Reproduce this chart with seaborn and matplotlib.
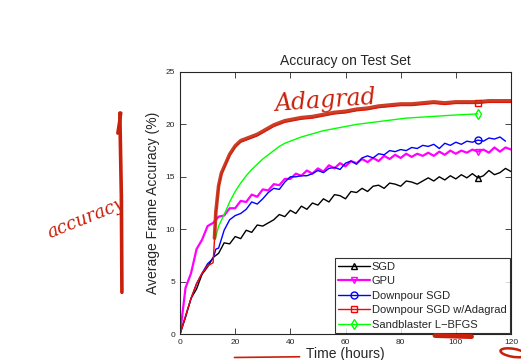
import matplotlib.pyplot as plt
import seaborn as sns
from matplotlib.lines import Line2D
from matplotlib.patches import Ellipse

# time (hours) and average frame accuracy (%) per method
sgd_t = list(range(0, 121, 2))
sgd_acc = [0.0, 1.6, 3.4, 4.3, 5.7, 6.4, 7.3, 7.7, 8.7, 8.6, 9.3, 9.1, 9.9, 9.7,
           10.4, 10.3, 10.6, 10.9, 11.4, 11.2, 11.8, 11.5, 12.2, 11.9, 12.5,
           12.3, 12.9, 12.6, 13.3, 13.2, 12.9, 13.6, 13.5, 13.9, 13.6, 14.1,
           14.2, 13.9, 14.4, 14.3, 14.1, 14.6, 14.5, 14.3, 14.6, 14.9, 14.6,
           15.0, 14.7, 15.1, 14.8, 15.2, 14.9, 15.3, 14.9, 15.1, 15.6, 15.2,
           15.4, 15.8, 15.5]

gpu_t = list(range(0, 121, 2))
gpu_acc = [0.0, 4.4, 5.8, 8.1, 9.0, 10.3, 10.6, 11.2, 11.3, 12.0, 12.0, 12.7,
           12.6, 13.3, 13.1, 13.8, 13.7, 14.3, 14.2, 14.8, 14.8, 15.3, 15.1,
           15.6, 15.3, 15.8, 15.5, 16.1, 15.8, 16.3, 16.0, 16.5, 16.3, 16.7,
           16.4, 16.8, 16.5, 17.0, 16.7, 17.1, 16.8, 17.2, 16.9, 17.2, 17.0,
           17.3, 17.0, 17.4, 17.1, 17.5, 17.2, 17.5, 17.3, 17.6, 17.4, 17.6,
           17.3, 17.8, 17.4, 17.8, 17.6]

downpour_t = [0, 2, 4, 6, 8, 10, 12, 13, 14, 16, 18, 20, 22, 24, 26, 28, 30,
              32, 34, 36, 38, 40, 42, 44, 46, 48, 50, 52, 54, 56, 58, 60, 62,
              64, 66, 68, 70, 72, 74, 76, 78, 80, 82, 84, 86, 88, 90, 92, 94,
              96, 98, 100, 102, 104, 106, 108, 110, 112, 114, 116, 118]
downpour_acc = [0.0, 1.7, 3.4, 4.8, 5.8, 6.7, 7.2, 8.1, 8.2, 9.9, 10.9, 11.3,
                11.5, 11.9, 12.6, 12.4, 12.9, 13.5, 13.9, 13.8, 14.5, 15.0,
                15.0, 15.1, 15.1, 15.3, 15.6, 15.4, 15.8, 15.9, 15.7, 16.3,
                16.5, 16.2, 16.8, 17.0, 16.8, 17.2, 17.1, 17.5, 17.4, 17.6,
                17.5, 17.8, 17.7, 18.0, 17.9, 18.1, 17.7, 18.2, 18.0, 18.3,
                18.1, 18.4, 18.3, 18.5, 18.4, 18.7, 18.6, 18.8, 18.4]

adagrad_t = [0, 2, 4, 6, 8, 10, 12, 12.5, 13, 14, 15, 16, 18, 20, 22, 24, 26,
             28, 30, 32, 34, 36, 38, 40, 44, 48, 52, 56, 60, 64, 68, 72, 76,
             80, 84, 88, 92, 96, 100, 104, 108, 112, 116, 120]
adagrad_acc = [0.0, 1.7, 3.4, 4.8, 5.8, 6.5, 6.8, 9.0, 11.5, 14.0, 15.2,
               15.8, 17.0, 17.8, 18.3, 18.5, 18.7, 18.9, 19.2, 19.5, 19.8,
               20.0, 20.2, 20.3, 20.5, 20.6, 20.8, 21.0, 21.1, 21.3, 21.4,
               21.6, 21.7, 21.8, 21.8, 21.9, 22.0, 21.9, 22.0, 22.0, 22.0,
               22.1, 22.1, 22.1]

lbfgs_t = [12.7, 14, 16, 18, 20, 22, 24, 26, 28, 30, 32, 34, 36, 38, 40, 44,
           48, 52, 56, 60, 64, 70, 76, 82, 88, 94, 100, 108]
lbfgs_acc = [9.0, 10.3, 11.4, 12.6, 13.6, 14.4, 15.1, 15.7, 16.2, 16.7, 17.1,
             17.5, 17.9, 18.2, 18.4, 18.8, 19.1, 19.4, 19.6, 19.8, 20.0, 20.2,
             20.4, 20.6, 20.7, 20.8, 20.9, 21.0]

series = [
    ("SGD", sgd_t, sgd_acc, "black", "^", 1.0),
    ("GPU", gpu_t, gpu_acc, "magenta", "v", 1.6),
    ("Downpour SGD", downpour_t, downpour_acc, "blue", "o", 1.0),
    ("Downpour SGD w/Adagrad", adagrad_t, adagrad_acc, "red", "s", 1.0),
    ("Sandblaster L\u2212BFGS", lbfgs_t, lbfgs_acc, "#00ff00", "d", 1.0),
]
MARK_AT = 108


def main(output="out.png"):
    sns.set_style("ticks")
    plt.rcParams["font.family"] = ["Liberation Sans", "DejaVu Sans"]

    fig = plt.figure(figsize=(5.21, 3.6), dpi=100)
    ax = fig.add_axes([0.3455, 0.0722, 0.6353, 0.7278])

    for name, t, acc, color, marker, lw in series:
        sns.lineplot(x=t, y=acc, ax=ax, color=color, lw=lw, marker=marker,
                     markersize=5, markerfacecolor="none", markeredgecolor=color,
                     markeredgewidth=1.0, markevery=[t.index(MARK_AT)],
                     label=name, sort=False, estimator=None)

    # hand-drawn highlight over the Adagrad curve
    sns.lineplot(x=adagrad_t[7:], y=[v + 0.15 for v in adagrad_acc[7:]], ax=ax,
                 color="#c62a10", lw=2.6, alpha=0.9, sort=False, estimator=None)

    ax.set_xlim(0, 120)
    ax.set_ylim(0, 25)
    ax.set_xticks(range(0, 121, 20))
    ax.set_yticks(range(0, 26, 5))
    ax.tick_params(direction="in", labelsize=6, length=4, width=0.6,
                   top=True, right=True)
    for s in ax.spines.values():
        s.set_linewidth(0.8)
    ax.set_title("Accuracy on Test Set", fontsize=10, pad=5)
    ax.set_xlabel("Time (hours)", fontsize=10, labelpad=1)
    ax.set_ylabel("Average Frame Accuracy (%)", fontsize=10, labelpad=4)

    handles, labels = ax.get_legend_handles_labels()
    leg = ax.legend(handles[:5], labels[:5], loc="lower right", fontsize=8,
                    frameon=True, fancybox=False, borderpad=0.3,
                    labelspacing=0.4, handlelength=2.9, handletextpad=0.15,
                    borderaxespad=0.1)
    leg.get_frame().set_edgecolor("black")
    leg.get_frame().set_linewidth(0.8)

    # handwritten notes on the slide
    red = "#c8200a"
    fig.text(0.625, 0.72, "Adagrad", color=red, fontsize=17, style="italic",
             family="DejaVu Serif", ha="center", va="center", rotation=4)
    fig.text(0.165, 0.395, "accuracy", color=red, fontsize=13, style="italic",
             family="DejaVu Serif", ha="center", va="center", rotation=22)
    fig.add_artist(Line2D([0.230, 0.233, 0.234], [0.686, 0.45, 0.188],
                          color=red, lw=2.6, solid_capstyle="round"))
    fig.add_artist(Line2D([0.232, 0.226], [0.686, 0.63], color=red, lw=2.4,
                          solid_capstyle="round"))
    fig.add_artist(Line2D([0.835, 0.905], [0.068, 0.065], color=red, lw=3.5,
                          solid_capstyle="round"))
    fig.add_artist(Line2D([0.45, 0.575], [0.007, 0.009], color=red, lw=1.2))
    fig.add_artist(Ellipse((0.985, 0.02), 0.05, 0.022, angle=-15, fill=False,
                           edgecolor=red, lw=1.8))

    fig.savefig(output, dpi=100)


if __name__ == "__main__":
    main()
